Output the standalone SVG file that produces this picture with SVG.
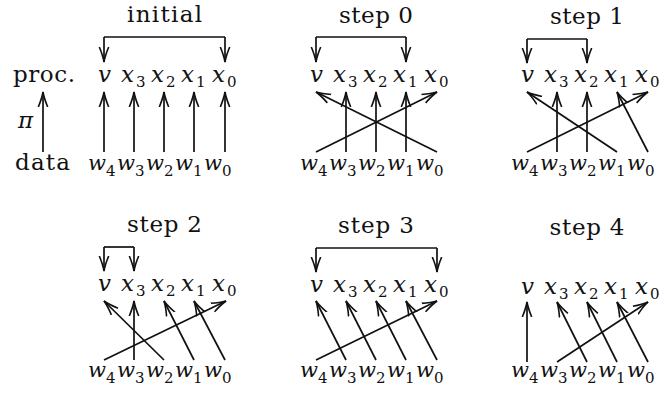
<svg xmlns="http://www.w3.org/2000/svg" width="662" height="396" viewBox="0 0 662 396">
<style>
.t{font-family:"DejaVu Serif","Liberation Serif",serif;font-size:23px;fill:#111}
.m{font-family:"DejaVu Serif","Liberation Serif",serif;font-style:italic;font-size:23px;fill:#111}
.w{font-family:"DejaVu Serif","Liberation Serif",serif;font-style:italic;font-size:21px;fill:#111}
.s{font-family:"DejaVu Serif","Liberation Serif",serif;font-size:15px;fill:#111}
.c{fill:none;stroke:#111;stroke-width:1.7}
.a{marker-end:url(#ah)}
</style>
<defs>
<marker id="ah" markerUnits="userSpaceOnUse" markerWidth="20" markerHeight="14" viewBox="0 0 20 14" refX="15" refY="7" orient="auto">
<path d="M0,2.3 Q9,6 15,7 Q9,8 0,11.7" fill="none" stroke="#111" stroke-width="1.6"/>
</marker>
</defs>
<rect width="662" height="396" fill="#fff"/>

<g id="legend">
<text class="t" x="13" y="82" textLength="62" lengthAdjust="spacing">proc.</text>
<text class="m" x="18" y="128">π</text>
<text class="t" x="15" y="170" textLength="55" lengthAdjust="spacing">data</text>
</g>

<g id="title-initial"><text class="t" x="164.5" y="22" text-anchor="middle" textLength="75" lengthAdjust="spacing">initial</text></g>
<g id="title-step0"><text class="t" x="376" y="23" text-anchor="middle" textLength="74" lengthAdjust="spacing">step 0</text></g>
<g id="title-step1"><text class="t" x="587" y="24" text-anchor="middle" textLength="74" lengthAdjust="spacing">step 1</text></g>
<g id="title-step2"><text class="t" x="164.5" y="232" text-anchor="middle" textLength="75" lengthAdjust="spacing">step 2</text></g>
<g id="title-step3"><text class="t" x="376" y="233" text-anchor="middle" textLength="76" lengthAdjust="spacing">step 3</text></g>
<g id="title-step4"><text class="t" x="587" y="235" text-anchor="middle" textLength="75" lengthAdjust="spacing">step 4</text></g>

<g id="initial-proc">
<g id="initial-v"><text class="m" x="98" y="82">v</text></g>
<g id="initial-x3"><text class="m" x="121" y="82">x</text><text class="s" x="136" y="87">3</text></g>
<g id="initial-x2"><text class="m" x="151" y="82">x</text><text class="s" x="166" y="87">2</text></g>
<g id="initial-x1"><text class="m" x="181" y="82">x</text><text class="s" x="196" y="87">1</text></g>
<g id="initial-x0"><text class="m" x="212" y="82">x</text><text class="s" x="227" y="87">0</text></g>
</g>
<g id="initial-data">
<g id="initial-w4"><text class="w" x="88" y="170">w</text><text class="s" x="106" y="176">4</text></g>
<g id="initial-w3"><text class="w" x="117" y="170">w</text><text class="s" x="135" y="176">3</text></g>
<g id="initial-w2"><text class="w" x="146" y="170">w</text><text class="s" x="164" y="176">2</text></g>
<g id="initial-w1"><text class="w" x="175" y="170">w</text><text class="s" x="193" y="176">1</text></g>
<g id="initial-w0"><text class="w" x="204" y="170">w</text><text class="s" x="222" y="176">0</text></g>
</g>

<g id="step0-proc">
<g id="step0-v"><text class="m" x="310" y="82">v</text></g>
<g id="step0-x3"><text class="m" x="333" y="82">x</text><text class="s" x="348" y="87">3</text></g>
<g id="step0-x2"><text class="m" x="363" y="82">x</text><text class="s" x="378" y="87">2</text></g>
<g id="step0-x1"><text class="m" x="393" y="82">x</text><text class="s" x="408" y="87">1</text></g>
<g id="step0-x0"><text class="m" x="424" y="82">x</text><text class="s" x="439" y="87">0</text></g>
</g>
<g id="step0-data">
<g id="step0-w4"><text class="w" x="300" y="170">w</text><text class="s" x="318" y="176">4</text></g>
<g id="step0-w3"><text class="w" x="329" y="170">w</text><text class="s" x="347" y="176">3</text></g>
<g id="step0-w2"><text class="w" x="358" y="170">w</text><text class="s" x="376" y="176">2</text></g>
<g id="step0-w1"><text class="w" x="387" y="170">w</text><text class="s" x="405" y="176">1</text></g>
<g id="step0-w0"><text class="w" x="416" y="170">w</text><text class="s" x="434" y="176">0</text></g>
</g>

<g id="step1-proc">
<g id="step1-v"><text class="m" x="521" y="82">v</text></g>
<g id="step1-x3"><text class="m" x="544" y="82">x</text><text class="s" x="559" y="87">3</text></g>
<g id="step1-x2"><text class="m" x="574" y="82">x</text><text class="s" x="589" y="87">2</text></g>
<g id="step1-x1"><text class="m" x="604" y="82">x</text><text class="s" x="619" y="87">1</text></g>
<g id="step1-x0"><text class="m" x="635" y="82">x</text><text class="s" x="650" y="87">0</text></g>
</g>
<g id="step1-data">
<g id="step1-w4"><text class="w" x="511" y="170">w</text><text class="s" x="529" y="176">4</text></g>
<g id="step1-w3"><text class="w" x="540" y="170">w</text><text class="s" x="558" y="176">3</text></g>
<g id="step1-w2"><text class="w" x="569" y="170">w</text><text class="s" x="587" y="176">2</text></g>
<g id="step1-w1"><text class="w" x="598" y="170">w</text><text class="s" x="616" y="176">1</text></g>
<g id="step1-w0"><text class="w" x="627" y="170">w</text><text class="s" x="645" y="176">0</text></g>
</g>

<g id="step2-proc">
<g id="step2-v"><text class="m" x="98" y="291">v</text></g>
<g id="step2-x3"><text class="m" x="121" y="291">x</text><text class="s" x="136" y="296">3</text></g>
<g id="step2-x2"><text class="m" x="151" y="291">x</text><text class="s" x="166" y="296">2</text></g>
<g id="step2-x1"><text class="m" x="181" y="291">x</text><text class="s" x="196" y="296">1</text></g>
<g id="step2-x0"><text class="m" x="212" y="291">x</text><text class="s" x="227" y="296">0</text></g>
</g>
<g id="step2-data">
<g id="step2-w4"><text class="w" x="88" y="377">w</text><text class="s" x="106" y="383">4</text></g>
<g id="step2-w3"><text class="w" x="117" y="377">w</text><text class="s" x="135" y="383">3</text></g>
<g id="step2-w2"><text class="w" x="146" y="377">w</text><text class="s" x="164" y="383">2</text></g>
<g id="step2-w1"><text class="w" x="175" y="377">w</text><text class="s" x="193" y="383">1</text></g>
<g id="step2-w0"><text class="w" x="204" y="377">w</text><text class="s" x="222" y="383">0</text></g>
</g>

<g id="step3-proc">
<g id="step3-v"><text class="m" x="310" y="292">v</text></g>
<g id="step3-x3"><text class="m" x="333" y="292">x</text><text class="s" x="348" y="297">3</text></g>
<g id="step3-x2"><text class="m" x="363" y="292">x</text><text class="s" x="378" y="297">2</text></g>
<g id="step3-x1"><text class="m" x="393" y="292">x</text><text class="s" x="408" y="297">1</text></g>
<g id="step3-x0"><text class="m" x="424" y="292">x</text><text class="s" x="439" y="297">0</text></g>
</g>
<g id="step3-data">
<g id="step3-w4"><text class="w" x="300" y="377">w</text><text class="s" x="318" y="383">4</text></g>
<g id="step3-w3"><text class="w" x="329" y="377">w</text><text class="s" x="347" y="383">3</text></g>
<g id="step3-w2"><text class="w" x="358" y="377">w</text><text class="s" x="376" y="383">2</text></g>
<g id="step3-w1"><text class="w" x="387" y="377">w</text><text class="s" x="405" y="383">1</text></g>
<g id="step3-w0"><text class="w" x="416" y="377">w</text><text class="s" x="434" y="383">0</text></g>
</g>

<g id="step4-proc">
<g id="step4-v"><text class="m" x="521" y="294">v</text></g>
<g id="step4-x3"><text class="m" x="544" y="294">x</text><text class="s" x="559" y="299">3</text></g>
<g id="step4-x2"><text class="m" x="574" y="294">x</text><text class="s" x="589" y="299">2</text></g>
<g id="step4-x1"><text class="m" x="604" y="294">x</text><text class="s" x="619" y="299">1</text></g>
<g id="step4-x0"><text class="m" x="635" y="294">x</text><text class="s" x="650" y="299">0</text></g>
</g>
<g id="step4-data">
<g id="step4-w4"><text class="w" x="511" y="377">w</text><text class="s" x="529" y="383">4</text></g>
<g id="step4-w3"><text class="w" x="540" y="377">w</text><text class="s" x="558" y="383">3</text></g>
<g id="step4-w2"><text class="w" x="569" y="377">w</text><text class="s" x="587" y="383">2</text></g>
<g id="step4-w1"><text class="w" x="598" y="377">w</text><text class="s" x="616" y="383">1</text></g>
<g id="step4-w0"><text class="w" x="627" y="377">w</text><text class="s" x="645" y="383">0</text></g>
</g>

<g id="connectors">
<path class="c a" d="M43,152 L43,92"/>
<path class="c" d="M104,37 H225"/>
<path class="c a" d="M104,37 V62"/><path class="c a" d="M225,37 V62"/>
<path class="c a" d="M104,152 L104,92"/>
<path class="c a" d="M134,152 L134,92"/>
<path class="c a" d="M164,152 L164,92"/>
<path class="c a" d="M194,152 L194,92"/>
<path class="c a" d="M225,152 L225,92"/>
<path class="c" d="M316,37 H406"/>
<path class="c a" d="M316,37 V62"/><path class="c a" d="M406,37 V62"/>
<path class="c a" d="M316,152 L437,92"/>
<path class="c a" d="M437,152 L316,92"/>
<path class="c a" d="M346,152 L346,92"/>
<path class="c a" d="M376,152 L376,92"/>
<path class="c a" d="M406,152 L406,92"/>
<path class="c" d="M527,39 H587"/>
<path class="c a" d="M527,39 V63"/><path class="c a" d="M587,39 V63"/>
<path class="c a" d="M527,152 L648,92"/>
<path class="c a" d="M557,152 L557,92"/>
<path class="c a" d="M587,152 L587,92"/>
<path class="c a" d="M617,152 L527,92"/>
<path class="c a" d="M648,152 L617,92"/>
<path class="c" d="M104,247 H134"/>
<path class="c a" d="M104,247 V271"/><path class="c a" d="M134,247 V271"/>
<path class="c a" d="M104,360 L226,301"/>
<path class="c a" d="M134,360 L134,301"/>
<path class="c a" d="M164,360 L104,301"/>
<path class="c a" d="M194,360 L164,301"/>
<path class="c a" d="M225,360 L194,301"/>
<path class="c" d="M316,248 H437"/>
<path class="c a" d="M316,248 V272"/><path class="c a" d="M437,248 V272"/>
<path class="c a" d="M316,360 L437,301"/>
<path class="c a" d="M346,360 L316,301"/>
<path class="c a" d="M376,360 L346,301"/>
<path class="c a" d="M406,360 L376,301"/>
<path class="c a" d="M437,360 L406,301"/>
<path class="c a" d="M527,362 L527,302"/>
<path class="c a" d="M557,362 L648,302"/>
<path class="c a" d="M587,362 L557,302"/>
<path class="c a" d="M617,362 L587,302"/>
<path class="c a" d="M648,362 L617,302"/>
</g>
</svg>
